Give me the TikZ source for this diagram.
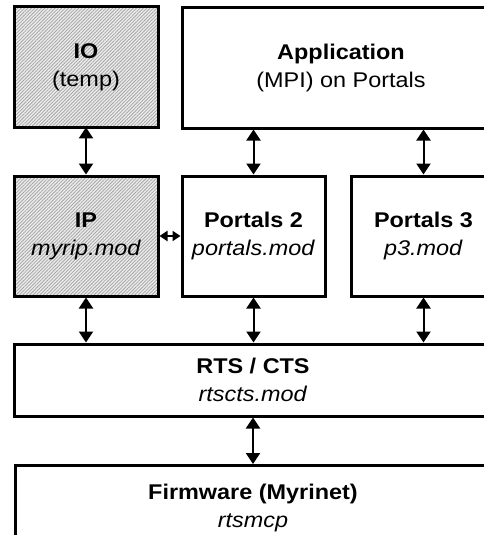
\documentclass[tikz,border=0pt]{standalone}
\usepackage{fontspec}
\setmainfont[FakeStretch=1.1]{Liberation Sans}
\usetikzlibrary{arrows.meta,patterns.meta}
\begin{document}
\begin{tikzpicture}[x=1pt,y=-1pt,
  box/.style={draw=black,line width=3pt,fill=white,rectangle,inner sep=0pt,
    align=center,font=\fontsize{21.3}{28}\selectfont},
  hatched/.style={preaction={fill=gray!15},
    pattern={Lines[angle=45,distance=2.4pt,line width=0.8pt]},pattern color=gray!70},
  link/.style={line width=2pt,{Triangle[length=11pt,width=14pt]}-{Triangle[length=11pt,width=14pt]}},
  shortlink/.style={line width=2pt,{Triangle[length=8pt,width=10pt]}-{Triangle[length=8pt,width=10pt]}},
  txt/.style={align=center,inner sep=0pt,font=\fontsize{21.3}{28}\selectfont}]
\useasboundingbox (0,0) rectangle (484,535);
\clip (0,0) rectangle (484,535);
% upper row
\node[box,hatched,minimum width=144pt,minimum height=120pt] (io) at (86,67)
  {\textbf{IO}\\(temp)};
\node[box,minimum width=318pt,minimum height=120pt] (app) at (341,68)
  {\textbf{Application}\\(MPI) on Portals};
% middle row
\node[box,hatched,minimum width=144pt,minimum height=120pt] (ip) at (86,236)
  {\textbf{IP}\\\textit{myrip.mod}};
\node[box,minimum width=143pt,minimum height=120pt] (p2) at (253.5,236)
  {\textbf{Portals 2}\\\textit{portals.mod}};
\node[box,minimum width=145pt,minimum height=120pt] (p3) at (423.5,236)
  {\textbf{Portals 3}\\\textit{p3.mod}};
% transport layer
\node[box,minimum width=478pt,minimum height=72pt] (rts) at (253,380)
  {\textbf{RTS / CTS}\\\textit{rtscts.mod}};
% firmware
\node[box,minimum width=478pt,minimum height=110pt,anchor=north west] (fw) at (14,464) {};
\node[txt] (fwtext) at (253,508) {\textbf{Firmware (Myrinet)}\\\textit{rtsmcp}};
% connectors
\draw[link] (io.south) -- (ip.north);
\draw[link] (p2.north |- app.south) -- (p2.north);
\draw[link] (p3.north |- app.south) -- (p3.north);
\draw[shortlink] (ip.east) -- (p2.west);
\draw[link] (ip.south) -- (ip.south |- rts.north);
\draw[link] (p2.south) -- (p2.south |- rts.north);
\draw[link] (p3.south) -- (p3.south |- rts.north);
\draw[link] (rts.south) -- (rts.south |- fw.north);
\end{tikzpicture}
\end{document}
